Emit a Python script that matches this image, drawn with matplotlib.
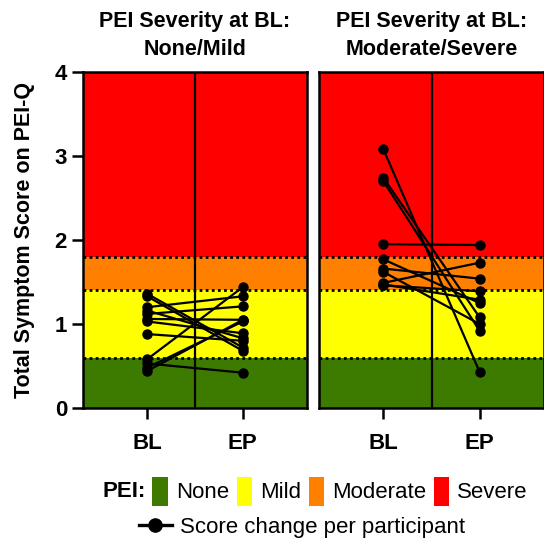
import matplotlib.pyplot as plt
from matplotlib.patches import Patch
from matplotlib.lines import Line2D

plt.rcParams['font.family'] = ['Liberation Sans', 'DejaVu Sans']
plt.rcParams['font.weight'] = 'bold'

# severity bands on PEI-Q
band_names = ['None', 'Mild', 'Moderate', 'Severe']
band_edges = [0, 0.6, 1.4, 1.8, 4]
band_colors = ['#3d7b00', '#ffff00', '#ff8000', '#ff0000']

timepoints = ['BL', 'EP']
panel_titles = ['PEI Severity at BL:\nNone/Mild', 'PEI Severity at BL:\nModerate/Severe']

# participant scores (BL -> EP)
mild_bl = [1.36, 1.33, 1.20, 1.16, 1.12, 1.06, 1.03, 0.88, 0.58, 0.53, 0.48, 0.44]
mild_ep = [0.72, 0.68, 1.33, 0.83, 1.21, 1.05, 0.89, 0.80, 1.44, 0.42, 1.03, 1.05]
sev_bl = [3.08, 2.74, 2.70, 1.95, 1.77, 1.66, 1.62, 1.49, 1.46, 1.47]
sev_ep = [0.43, 1.08, 0.92, 1.94, 1.25, 1.54, 1.00, 1.73, 1.39, 1.29]

fig = plt.figure(figsize=(5.44, 5.44), dpi=100)
ax1 = fig.add_axes([0.1526, 0.25, 0.4117, 0.6176])
ax2 = fig.add_axes([0.5864, 0.25, 0.4136, 0.6176])

for ax, title, bl, ep in [(ax1, panel_titles[0], mild_bl, mild_ep),
                          (ax2, panel_titles[1], sev_bl, sev_ep)]:
    ax.set_xlim(-0.67, 1.67)
    ax.set_ylim(0, 4)
    for i in range(4):
        ax.axhspan(band_edges[i], band_edges[i + 1], color=band_colors[i], lw=0, zorder=0)
    for y in band_edges[1:4]:
        ax.axhline(y, color='black', ls=(0, (1, 1.2)), lw=2, zorder=1)
    ax.axvline(0.5, color='black', lw=1.6, zorder=1)
    for b, e in zip(bl, ep):
        ax.plot([0, 1], [b, e], color='black', lw=1.6, marker='o', ms=6.5, zorder=3)
    ax.set_title(title, fontsize=15.5, fontweight='bold', pad=12, linespacing=1.45)
    ax.set_xticks([0, 1])
    ax.set_xticklabels(timepoints, fontsize=16, fontweight='bold')
    ax.tick_params(axis='x', length=8, width=1.8, pad=10)
    for s in ax.spines.values():
        s.set_linewidth(1.8)

ax1.set_yticks([0, 1, 2, 3, 4])
ax1.tick_params(axis='y', length=8, width=1.8, labelsize=16)
ax1.set_ylabel('Total Symptom Score on PEI-Q', fontsize=15.5, fontweight='bold', labelpad=14)
ax2.set_yticks([])

# legend row 1: PEI bands
fig.text(0.188, 0.097, 'PEI:', fontsize=16, fontweight='bold', va='center', ha='left')
patches = [Patch(facecolor=c, edgecolor='none') for c in band_colors]
fig.legend(patches, band_names, loc='center', bbox_to_anchor=(0.625, 0.097), ncol=4,
           frameon=False, handlelength=0.7, handleheight=1.65, handletextpad=0.35,
           columnspacing=0.35, borderpad=0, prop={'size': 16, 'weight': 'normal'})

# legend row 2: paired line
line_h = Line2D([], [], color='black', lw=2.4, marker='o', ms=9.5)
fig.legend([line_h], ['Score change per participant'], loc='center',
           bbox_to_anchor=(0.555, 0.031), frameon=False, handlelength=1.5, handletextpad=0.35,
           borderpad=0, prop={'size': 16, 'weight': 'normal'})

fig.savefig('out.png', dpi=100)
